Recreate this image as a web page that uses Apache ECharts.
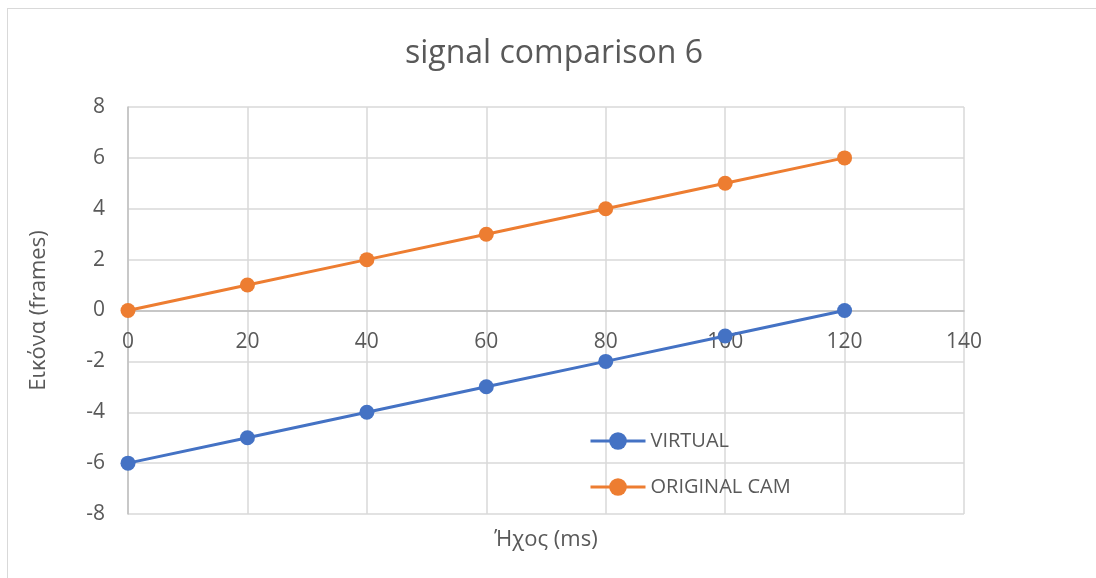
<!DOCTYPE html>
<html>
<head>
<meta charset="utf-8">
<script src="https://cdn.jsdelivr.net/npm/echarts@6/dist/echarts.min.js"></script>
<style>
  html, body { margin: 0; padding: 0; background: #fff; }
  #frame { position: absolute; left: 7px; top: 8px; width: 1200px; height: 700px; border: 1px solid #d9d9d9; box-sizing: border-box; }
  #chart { position: absolute; left: 0; top: 0; width: 1096px; height: 578px; }
</style>
</head>
<body>
<div id="frame"></div>
<div id="chart"></div>
<script>
// Sound delay (ms) against image offset (frames)
const soundMs = [0, 20, 40, 60, 80, 100, 120];
const virtualFrames = [-6, -5, -4, -3, -2, -1, 0];
const originalCamFrames = [0, 1, 2, 3, 4, 5, 6];
const seriesNames = ['VIRTUAL', 'ORIGINAL CAM'];

const font = '"Open Sans", "Noto Sans", sans-serif';
const chart = echarts.init(document.getElementById('chart'), null, { renderer: 'canvas' });

function pairs(xs, ys) { return xs.map((x, i) => [x, ys[i]]); }

chart.setOption({
  animation: false,
  title: {
    text: 'signal comparison 6',
    left: 405,
    top: 38,
    padding: 0,
    textStyle: { fontFamily: font, fontSize: 32, fontWeight: 'normal', color: '#595959' }
  },
  legend: {
    orient: 'vertical',
    left: 589,
    top: 431,
    padding: 0,
    itemGap: 26,
    itemWidth: 55,
    itemHeight: 22,
    lineStyle: { width: 3 },
    textStyle: { fontFamily: font, fontSize: 20, color: '#595959' },
    data: seriesNames
  },
  grid: { left: 128, right: 132, top: 107, bottom: 64, containLabel: false, outerBoundsMode: 'none' },
  xAxis: {
    type: 'value',
    min: 0, max: 140, interval: 20,
    name: 'Ήχος (ms)',
    nameLocation: 'middle',
    nameGap: 218,
    nameTextStyle: { fontFamily: font, fontSize: 22, color: '#595959' },
    axisLine: { onZero: false, lineStyle: { color: '#bfbfbf', width: 1.5 } },
    axisTick: { show: false },
    axisLabel: { margin: 21, fontFamily: font, fontSize: 21, color: '#595959' },
    splitLine: { show: true, lineStyle: { color: '#d9d9d9', width: 1.5 } }
  },
  yAxis: {
    type: 'value',
    min: -8, max: 8, interval: 2,
    name: 'Εικόνα (frames)',
    nameLocation: 'middle',
    nameGap: 78,
    nameTextStyle: { fontFamily: font, fontSize: 22, color: '#595959' },
    axisLine: { show: true, lineStyle: { color: '#bfbfbf', width: 1.5 } },
    axisTick: { show: false },
    axisLabel: { margin: 23, fontFamily: font, fontSize: 21, color: '#595959' },
    splitLine: { show: true, lineStyle: { color: '#d9d9d9', width: 1.5 } }
  },
  series: [
    {
      name: seriesNames[0],
      type: 'line',
      data: pairs(soundMs, virtualFrames),
      symbol: 'circle', symbolSize: 15,
      lineStyle: { color: '#4472c4', width: 3 },
      itemStyle: { color: '#4472c4' }
    },
    {
      name: seriesNames[1],
      type: 'line',
      data: pairs(soundMs, originalCamFrames),
      symbol: 'circle', symbolSize: 15,
      lineStyle: { color: '#ed7d31', width: 3 },
      itemStyle: { color: '#ed7d31' }
    }
  ]
});

// Move the x axis (line, labels, name) up onto the y = 0 line
const yMin = chart.getModel().getComponent('yAxis', 0).axis.scale.getExtent()[0];
const zeroPx = chart.convertToPixel({ yAxisIndex: 0 }, 0);
const bottomPx = chart.convertToPixel({ yAxisIndex: 0 }, yMin);
chart.setOption({ xAxis: { offset: zeroPx - bottomPx } });
</script>
</body>
</html>
